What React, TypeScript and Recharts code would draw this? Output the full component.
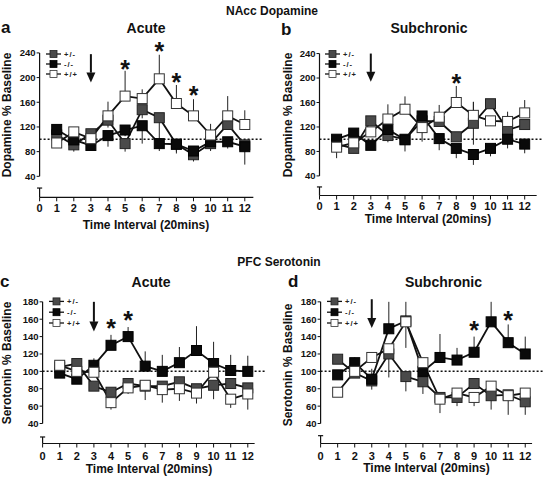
import React from 'react'
import {
  ComposedChart, Line, XAxis, YAxis, ReferenceLine, ReferenceDot, ErrorBar, Legend,
} from 'recharts'

const FONT = '"Liberation Sans", Arial, sans-serif'
const INK = '#111'

// ── shared axes ────────────────────────────────────────────────
const intervals = [1, 2, 3, 4, 5, 6, 7, 8, 9, 10, 11, 12]
const xTicks = [0, 1, 2, 3, 4, 5, 6, 7, 8, 9, 10, 11, 12]
const daTicks = [40, 80, 120, 160, 200, 240]
const htTicks = [40, 60, 80, 100, 120, 140, 160, 180]

// ── a: NAcc dopamine, acute ────────────────────────────────────
const aHet = [107, 91, 109, 131, 93, 148, 135, 92, 75, 93, 124, 91]
const aKo = [116, 99, 90, 106, 115, 122, 93, 92, 81, 96, 96, 88]
const aWt = [94, 112, 101, 138, 170, 166, 198, 158, 138, 107, 138, 124]
const aHetErr = [[0, 8], [11, 0], [6, 0], [12, 0], [13, 0], [14, 0], [34, 0], [15, 0], [11, 0], [10, 0], [0, 14], [6, 0]]
const aKoErr = [[8, 0], [10, 0], [6, 0], [18, 0], [10, 0], [29, 0], [12, 0], [12, 0], [6, 0], [15, 0], [11, 0], [29, 0]]
const aWtErr = [[6, 0], [0, 6], [0, 6], [0, 23], [0, 41], [0, 15], [0, 39], [0, 30], [0, 27], [0, 18], [0, 32], [0, 23]]
const aStars = [{ x: 5, y: 222 }, { x: 7, y: 251 }, { x: 8, y: 201 }, { x: 9, y: 180 }]

// ── b: NAcc dopamine, subchronic ───────────────────────────────
const bHet = [92, 85, 130, 106, 100, 130, 129, 104, 126, 158, 115, 124]
const bKo = [100, 110, 90, 116, 99, 138, 101, 85, 75, 85, 100, 92]
const bWt = [87, 94, 112, 133, 149, 119, 136, 160, 139, 130, 129, 143]
const bHetErr = [[0, 0], [8, 0], [0, 0], [11, 0], [0, 0], [0, 0], [0, 0], [0, 0], [35, 35], [0, 0], [30, 30], [0, 0]]
const bKoErr = [[0, 0], [6, 0], [0, 0], [0, 0], [19, 0], [18, 0], [19, 0], [16, 0], [17, 0], [13, 0], [0, 0], [15, 0]]
const bWtErr = [[18, 0], [6, 0], [0, 8], [0, 24], [0, 21], [23, 0], [0, 20], [0, 27], [0, 22], [8, 0], [0, 10], [0, 21]]
const bStars = [{ x: 8, y: 200 }]

// ── c: PFC serotonin, acute ────────────────────────────────────
const cHet = [105, 109, 83, 76, 86, 83, 83, 88, 80, 84, 86, 81]
const cKo = [98, 91, 107, 130, 140, 106, 100, 110, 124, 109, 101, 100]
const cWt = [107, 100, 99, 64, 81, 84, 79, 80, 75, 99, 68, 74]
const cHetErr = [[0, 0], [0, 0], [0, 0], [0, 0], [0, 0], [0, 0], [0, 0], [0, 0], [0, 0], [16, 0], [0, 0], [0, 0]]
const cKoErr = [[0, 0], [0, 0], [0, 8], [0, 12], [0, 11], [0, 17], [0, 19], [0, 18], [0, 28], [0, 25], [0, 18], [0, 18]]
const cWtErr = [[0, 0], [0, 0], [0, 0], [8, 0], [7, 0], [17, 0], [15, 0], [14, 0], [12, 0], [0, 0], [10, 0], [18, 0]]
const cStars = [{ x: 4, y: 156 }, { x: 5, y: 165 }]

// ── d: PFC serotonin, subchronic ───────────────────────────────
const dHet = [114, 98, 89, 120, 94, 88, 70, 70, 86, 72, 73, 65]
const dKo = [96, 110, 91, 149, 158, 100, 116, 113, 122, 157, 133, 120]
const dWt = [76, 100, 116, 126, 157, 110, 68, 75, 70, 83, 72, 75]
const dHetErr = [[0, 0], [0, 0], [0, 0], [27, 0], [17, 0], [14, 0], [0, 0], [10, 0], [0, 0], [16, 0], [0, 0], [15, 0]]
const dKoErr = [[0, 0], [0, 6], [12, 12], [0, 31], [31, 22], [0, 0], [0, 27], [0, 14], [0, 18], [0, 23], [0, 21], [0, 20]]
const dWtErr = [[0, 0], [0, 0], [0, 0], [0, 0], [0, 0], [0, 0], [16, 0], [0, 0], [10, 0], [0, 0], [22, 0], [0, 0]]
const dStars = [{ x: 9, y: 153 }, { x: 11, y: 165 }]

const SERIES = [
  { key: 'het', name: '+/-', fill: '#4a4a4a', stroke: '#222' },
  { key: 'ko', name: '-/-', fill: '#0a0a0a', stroke: '#000' },
  { key: 'wt', name: '+/+', fill: '#ffffff', stroke: '#333' },
]

function rows(het: number[], ko: number[], wt: number[], hetErr: number[][], koErr: number[][], wtErr: number[][]) {
  return intervals.map((t, i) => ({
    t, het: het[i], ko: ko[i], wt: wt[i], hetErr: hetErr[i], koErr: koErr[i], wtErr: wtErr[i],
  }))
}

const square = (fill: string, stroke: string) => (p: any) => (
  <rect key={`sq-${p.index}`} x={p.cx - 5} y={p.cy - 5} width={10} height={10} fill={fill} stroke={stroke} strokeWidth={1} />
)

const starShape = (p: any) => (
  <text x={p.cx} y={p.cy + 14} textAnchor="middle" fontSize={25} fontWeight="bold" fill={INK} fontFamily={FONT}>*</text>
)

const arrowHead = (p: any) => (
  <polygon points={`${p.cx - 4.5},${p.cy - 10} ${p.cx + 4.5},${p.cy - 10} ${p.cx},${p.cy}`} fill={INK} />
)

function GenotypeLegend({ gap }: { gap: number }) {
  return (
    <svg width={44} height={gap * 3} style={{ display: 'block' }}>
      {SERIES.map((s, i) => {
        const cy = gap * i + gap / 2
        return (
          <g key={s.key}>
            <line x1={0} x2={15} y1={cy} y2={cy} stroke={INK} strokeWidth={1.3} />
            <rect x={4} y={cy - 3.5} width={7} height={7} fill={s.fill} stroke={s.stroke} strokeWidth={0.8} />
            <text x={18} y={cy} dominantBaseline="central" fontSize={7.5} fontWeight="bold" letterSpacing={1} fill="#222" fontFamily={FONT}>{s.name}</text>
          </g>
        )
      })}
    </svg>
  )
}

function Panel({ data, box, margin, yDomain, yTicks, stubTop, xEnd, xTickGap, stars, arrow, legend }: any) {
  const yMin = yDomain[0]
  return (
    <div style={{ position: 'absolute', left: box.left, top: box.top }}>
      <ComposedChart width={box.width} height={box.height} data={data} margin={margin}>
        <XAxis
          dataKey="t" type="number" domain={[0, 13.1]} ticks={xTicks} interval={0} allowDataOverflow
          axisLine={false} tickLine={{ stroke: INK }} tickSize={4} tickMargin={xTickGap} height={22}
          tick={{ fontSize: 11, fontWeight: 'bold', fill: INK, fontFamily: FONT }}
        />
        <YAxis
          type="number" domain={yDomain} ticks={yTicks} interval={0} allowDataOverflow
          axisLine={false} tickLine={{ stroke: INK }} tickSize={3} tickMargin={1} width={30}
          tick={{ fontSize: 9.5, fontWeight: 'bold', fill: INK, fontFamily: FONT }}
        />
        {/* broken axes */}
        <ReferenceLine segment={[{ x: 0, y: yTicks[0] }, { x: 0, y: yTicks[yTicks.length - 1] }]} stroke={INK} strokeWidth={1.2} ifOverflow="visible" />
        <ReferenceLine segment={[{ x: 0, y: yMin }, { x: 0, y: stubTop }]} stroke={INK} strokeWidth={1.2} ifOverflow="visible" />
        <ReferenceLine segment={[{ x: -0.15, y: stubTop }, { x: 0.15, y: stubTop }]} stroke={INK} strokeWidth={1.2} ifOverflow="visible" />
        <ReferenceLine segment={[{ x: 0, y: yMin }, { x: xEnd, y: yMin }]} stroke={INK} strokeWidth={1.2} ifOverflow="visible" />
        <ReferenceLine y={100} stroke={INK} strokeWidth={1.5} strokeDasharray="2 2" ifOverflow="visible" />
        {/* injection arrow */}
        <ReferenceLine segment={[{ x: 3, y: arrow.top }, { x: 3, y: arrow.shaft }]} stroke={INK} strokeWidth={2} ifOverflow="visible" />
        <ReferenceDot x={3} y={arrow.tip} ifOverflow="visible" shape={arrowHead} />
        {SERIES.map((s) => (
          <Line
            key={s.key} dataKey={s.key} name={s.name} type="linear" stroke={INK} strokeWidth={1.8}
            dot={square(s.fill, s.stroke)} activeDot={false} isAnimationActive={false}
          >
            <ErrorBar dataKey={`${s.key}Err`} width={0} stroke="#222" strokeWidth={1} direction="y" />
          </Line>
        ))}
        {stars.map((st: any, i: number) => (
          <ReferenceDot key={i} x={st.x} y={st.y} ifOverflow="visible" shape={starShape} />
        ))}
        <Legend
          layout="vertical" align="center" verticalAlign="middle"
          content={() => <GenotypeLegend gap={legend.gap} />}
          wrapperStyle={{ left: legend.left, top: legend.top, width: 44, height: legend.gap * 3 }}
        />
      </ComposedChart>
    </div>
  )
}

const T = (props: any) => <text fontFamily={FONT} fill={INK} fontWeight="bold" {...props} />

export default function App() {
  return (
    <div style={{ position: 'absolute', left: 0, top: 0, width: 544, height: 477, background: '#fff', fontFamily: FONT }}>
      <Panel
        data={rows(aHet, aKo, aWt, aHetErr, aKoErr, aWtErr)}
        box={{ left: 0, top: 0, width: 266, height: 222 }}
        margin={{ top: 34.4, right: 2.4, left: 9.6, bottom: 2.7 }}
        yDomain={[6, 270]} yTicks={daTicks} stubTop={21} xEnd={12.5} xTickGap={3}
        stars={aStars} arrow={{ top: 238, shaft: 208, tip: 192 }}
        legend={{ left: 46, top: 49, gap: 10 }}
      />
      <Panel
        data={rows(bHet, bKo, bWt, bHetErr, bKoErr, bWtErr)}
        box={{ left: 272, top: 0, width: 272, height: 222 }}
        margin={{ top: 35.2, right: 0.5, left: 17.5, bottom: 4.5 }}
        yDomain={[8, 270]} yTicks={daTicks} stubTop={22} xEnd={12.7} xTickGap={3}
        stars={bStars} arrow={{ top: 240, shaft: 210, tip: 194 }}
        legend={{ left: 53, top: 49, gap: 10 }}
      />
      <Panel
        data={rows(cHet, cKo, cWt, cHetErr, cKoErr, cWtErr)}
        box={{ left: 0, top: 240, width: 267, height: 226 }}
        margin={{ top: 48.8, right: 0.4, left: 12.6, bottom: 0.5 }}
        yDomain={[17, 195]} yTicks={htTicks} stubTop={24.5} xEnd={12.4} xTickGap={4.5}
        stars={cStars} arrow={{ top: 180, shaft: 157, tip: 146 }}
        legend={{ left: 49, top: 56.3, gap: 10.8 }}
      />
      <Panel
        data={rows(dHet, dKo, dWt, dHetErr, dKoErr, dWtErr)}
        box={{ left: 272, top: 240, width: 272, height: 226 }}
        margin={{ top: 48.8, right: 0, left: 18.6, bottom: 0.5 }}
        yDomain={[17, 195]} yTicks={htTicks} stubTop={26} xEnd={12.4} xTickGap={4.5}
        stars={dStars} arrow={{ top: 183, shaft: 161, tip: 150 }}
        legend={{ left: 55, top: 56.3, gap: 10.8 }}
      />
      <svg width={544} height={477} style={{ position: 'absolute', left: 0, top: 0, pointerEvents: 'none' }}>
        <T x={272} y={15} fontSize={12} textAnchor="middle">NAcc Dopamine</T>
        <T x={279} y={266} fontSize={12} textAnchor="middle">PFC Serotonin</T>
        <T x={1} y={33} fontSize={17}>a</T>
        <T x={281} y={35} fontSize={17}>b</T>
        <T x={0} y={287} fontSize={17}>c</T>
        <T x={288} y={287} fontSize={17}>d</T>
        <T x={146} y={33.3} fontSize={14} textAnchor="middle">Acute</T>
        <T x={429} y={33.3} fontSize={14} textAnchor="middle">Subchronic</T>
        <T x={151} y={286.7} fontSize={14} textAnchor="middle">Acute</T>
        <T x={443.5} y={287} fontSize={14} textAnchor="middle">Subchronic</T>
        <T x={146} y={229} fontSize={12} textAnchor="middle">Time Interval (20mins)</T>
        <T x={428} y={223} fontSize={12} textAnchor="middle">Time Interval (20mins)</T>
        <T x={149} y={472.5} fontSize={12} textAnchor="middle">Time Interval (20mins)</T>
        <T x={426.5} y={472} fontSize={12} textAnchor="middle">Time Interval (20mins)</T>
        <T x={11} y={115} fontSize={12} textAnchor="middle" transform="rotate(-90 11 115)">Dopamine % Baseline</T>
        <T x={292} y={115} fontSize={12} textAnchor="middle" transform="rotate(-90 292 115)">Dopamine % Baseline</T>
        <T x={11} y={363} fontSize={12} textAnchor="middle" transform="rotate(-90 11 363)">Serotonin % Baseline</T>
        <T x={292} y={365} fontSize={12} textAnchor="middle" transform="rotate(-90 292 365)">Serotonin % Baseline</T>
      </svg>
    </div>
  )
}
